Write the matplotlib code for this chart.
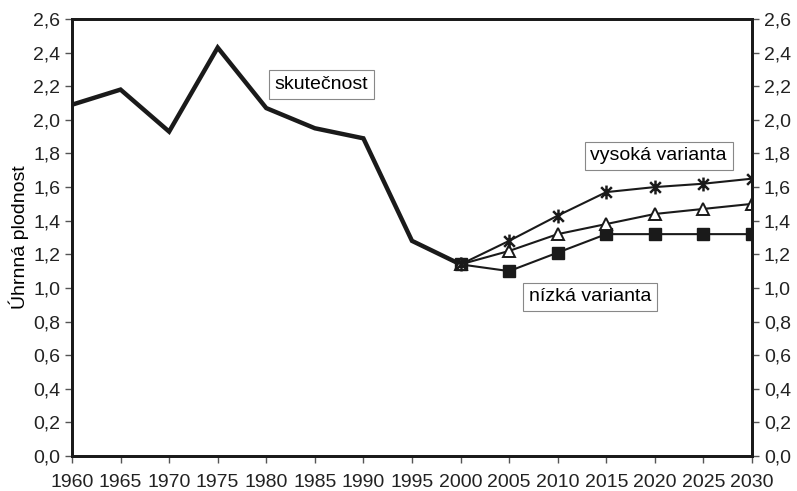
import matplotlib
matplotlib.use("Agg")
import matplotlib.pyplot as plt
from matplotlib.path import Path

plt.rcParams['font.family'] = ['Liberation Sans', 'DejaVu Sans']

# skutečnost
years_real = [1960, 1965, 1970, 1975, 1980, 1985, 1990, 1995, 2000]
real = [2.09, 2.18, 1.93, 2.43, 2.07, 1.95, 1.89, 1.28, 1.14]

# projekce
years_proj = [2000, 2005, 2010, 2015, 2020, 2025, 2030]
high = [1.14, 1.28, 1.43, 1.57, 1.60, 1.62, 1.65]
mid = [1.14, 1.22, 1.32, 1.38, 1.44, 1.47, 1.50]
low = [1.14, 1.10, 1.21, 1.32, 1.32, 1.32, 1.32]

yticks = [i / 10 for i in range(0, 27, 2)]
ylabels = [f"{v:.1f}".replace('.', ',') for v in yticks]
xticks = list(range(1960, 2031, 5))

fs = 14

# excel-like star: x with a vertical stroke
star = Path([(-1, -1), (1, 1), (-1, 1), (1, -1), (0, -1.3), (0, 1.3)],
            [Path.MOVETO, Path.LINETO, Path.MOVETO, Path.LINETO, Path.MOVETO, Path.LINETO])

fig = plt.figure(figsize=(7.97, 4.91), dpi=100)
ax = fig.add_axes([0.0903, 0.0713, 0.8532, 0.890])

ax.plot(years_real, real, color='#1a1a1a', lw=3.2, solid_joinstyle='miter')
ax.plot(years_proj, low, color='#1a1a1a', lw=1.5, marker='s', ms=8,
        mfc='#1a1a1a', mec='#1a1a1a')
ax.plot(years_proj, mid, color='#1a1a1a', lw=1.5, marker='^', ms=8,
        mfc='white', mec='#1a1a1a', mew=1.4)
ax.plot(years_proj, high, color='#1a1a1a', lw=1.5, marker=star, ms=10,
        mec='#1a1a1a', mew=1.8)

ax.set_xlim(1960, 2030)
ax.set_ylim(0, 2.6)
ax.set_xticks(xticks)
ax.set_xticklabels([str(x) for x in xticks], fontsize=fs)
ax.set_yticks(yticks)
ax.set_yticklabels(ylabels, fontsize=fs)
ax.set_ylabel('Úhrnná plodnost', fontsize=fs, labelpad=3)
ax.tick_params(direction='out', length=5, width=1, color='#555555', colors='#222222')
ax.tick_params(axis='x', pad=8)

for s in ax.spines.values():
    s.set_linewidth(2)
    s.set_color('#1a1a1a')

ax2 = ax.twinx()
ax2.set_ylim(0, 2.6)
ax2.set_yticks(yticks)
ax2.set_yticklabels(ylabels, fontsize=fs)
ax2.tick_params(direction='out', length=5, width=1, color='#555555', colors='#222222')
for s in ax2.spines.values():
    s.set_linewidth(2)
    s.set_color('#1a1a1a')

box = dict(boxstyle='square,pad=0.3', fc='white', ec='#888888', lw=0.8)
ax.text(1985.7, 2.21, 'skutečnost', fontsize=fs, ha='center', va='center', bbox=box)
ax.text(2020.4, 1.785, 'vysoká varianta', fontsize=fs, ha='center', va='center', bbox=box)
ax.text(2013.3, 0.946, 'nízká varianta', fontsize=fs, ha='center', va='center', bbox=box)

fig.savefig('out.png', dpi=100)
